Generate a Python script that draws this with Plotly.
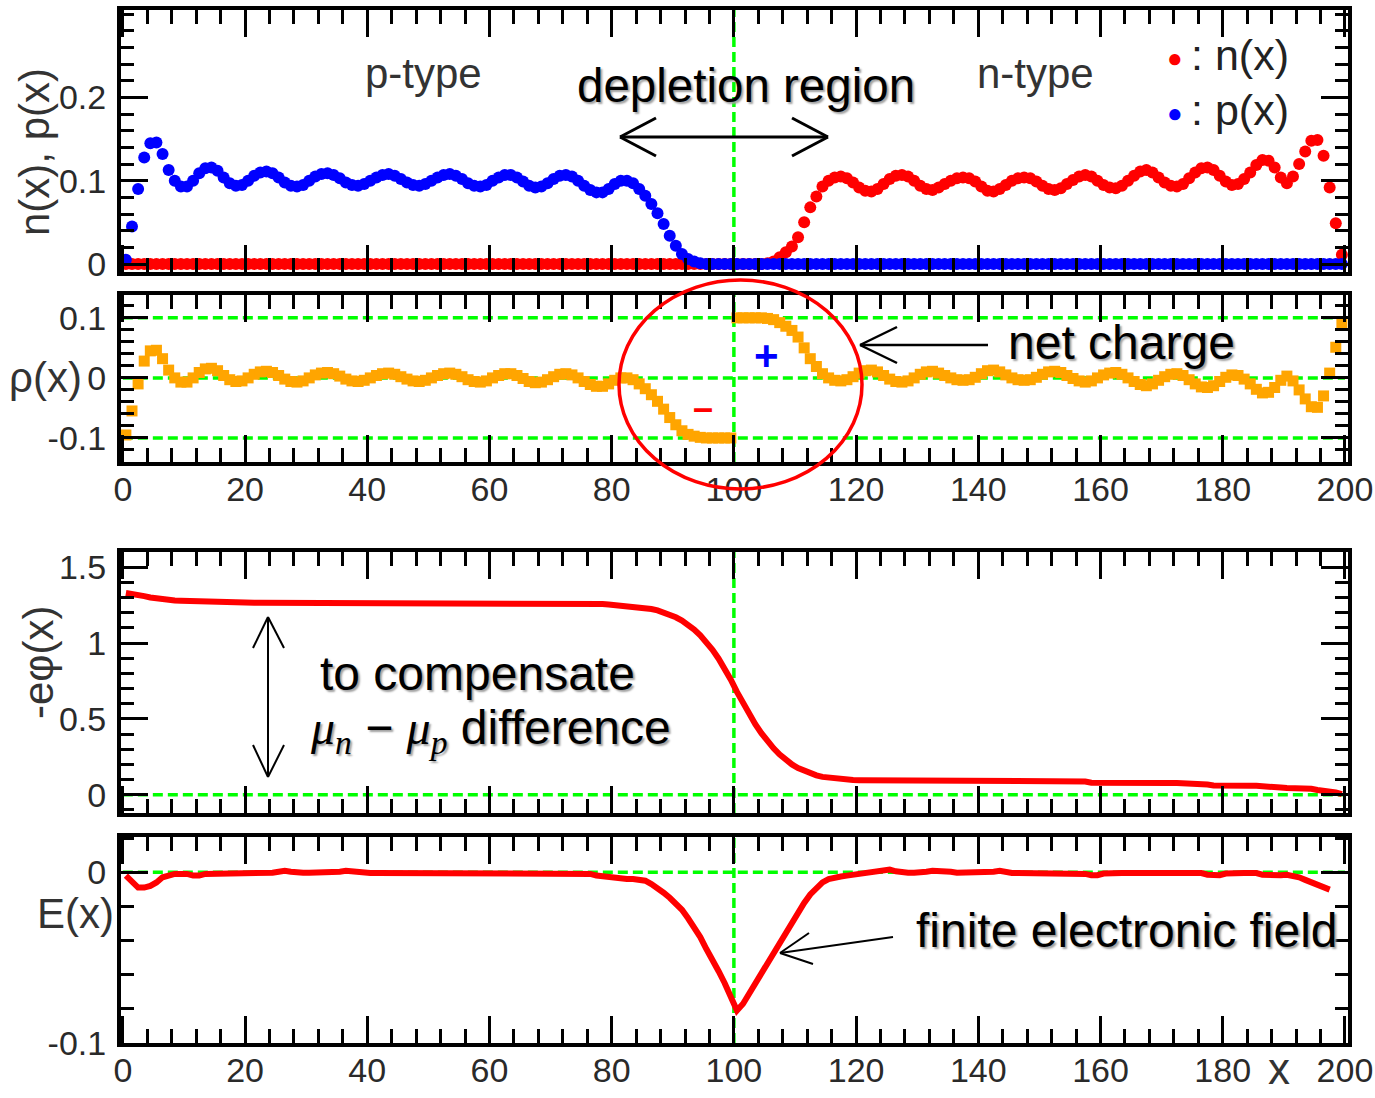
import plotly.graph_objects as go

W, H = 1375, 1098
FONT = "Liberation Sans, Arial, Helvetica, sans-serif"

# ---------------- data (x grid: cell centres) ----------------
X_GRID = [i + 0.5 for i in range(200)]

P_X = [
    0.005, 0.045, 0.090, 0.128, 0.145, 0.146, 0.132, 0.113, 0.100, 0.093,
    0.093, 0.100, 0.109, 0.115, 0.116, 0.112, 0.104, 0.097, 0.094, 0.095,
    0.100, 0.106, 0.110, 0.111, 0.109, 0.104, 0.098, 0.094, 0.093, 0.095,
    0.100, 0.105, 0.108, 0.109, 0.107, 0.103, 0.098, 0.095, 0.094, 0.096,
    0.100, 0.104, 0.107, 0.108, 0.106, 0.102, 0.098, 0.095, 0.094, 0.096,
    0.100, 0.104, 0.107, 0.108, 0.106, 0.102, 0.097, 0.094, 0.093, 0.095,
    0.100, 0.104, 0.107, 0.107, 0.104, 0.099, 0.094, 0.092, 0.093, 0.097,
    0.102, 0.106, 0.107, 0.105, 0.100, 0.094, 0.089, 0.086, 0.086, 0.090,
    0.096, 0.100, 0.100, 0.097, 0.090, 0.082, 0.072, 0.061, 0.048, 0.034,
    0.022, 0.012, 0.006, 0.003, 0.001, 0.000, 0.000, 0.000, 0.000, 0.000,
    0.000, 0.000, 0.000, 0.000, 0.000, 0.000, 0.000, 0.000, 0.000, 0.000,
    0.000, 0.000, 0.000, 0.000, 0.000, 0.000, 0.000, 0.000, 0.000, 0.000,
    0.000, 0.000, 0.000, 0.000, 0.000, 0.000, 0.000, 0.000, 0.000, 0.000,
    0.000, 0.000, 0.000, 0.000, 0.000, 0.000, 0.000, 0.000, 0.000, 0.000,
    0.000, 0.000, 0.000, 0.000, 0.000, 0.000, 0.000, 0.000, 0.000, 0.000,
    0.000, 0.000, 0.000, 0.000, 0.000, 0.000, 0.000, 0.000, 0.000, 0.000,
    0.000, 0.000, 0.000, 0.000, 0.000, 0.000, 0.000, 0.000, 0.000, 0.000,
    0.000, 0.000, 0.000, 0.000, 0.000, 0.000, 0.000, 0.000, 0.000, 0.000,
    0.000, 0.000, 0.000, 0.000, 0.000, 0.000, 0.000, 0.000, 0.000, 0.000,
    0.000, 0.000, 0.000, 0.000, 0.000, 0.000, 0.000, 0.000, 0.000, 0.000,
]

N_X = [
    0.000, 0.000, 0.000, 0.000, 0.000, 0.000, 0.000, 0.000, 0.000, 0.000,
    0.000, 0.000, 0.000, 0.000, 0.000, 0.000, 0.000, 0.000, 0.000, 0.000,
    0.000, 0.000, 0.000, 0.000, 0.000, 0.000, 0.000, 0.000, 0.000, 0.000,
    0.000, 0.000, 0.000, 0.000, 0.000, 0.000, 0.000, 0.000, 0.000, 0.000,
    0.000, 0.000, 0.000, 0.000, 0.000, 0.000, 0.000, 0.000, 0.000, 0.000,
    0.000, 0.000, 0.000, 0.000, 0.000, 0.000, 0.000, 0.000, 0.000, 0.000,
    0.000, 0.000, 0.000, 0.000, 0.000, 0.000, 0.000, 0.000, 0.000, 0.000,
    0.000, 0.000, 0.000, 0.000, 0.000, 0.000, 0.000, 0.000, 0.000, 0.000,
    0.000, 0.000, 0.000, 0.000, 0.000, 0.000, 0.000, 0.000, 0.000, 0.000,
    0.000, 0.000, 0.000, 0.000, 0.000, 0.000, 0.000, 0.000, 0.000, 0.000,
    0.000, 0.000, 0.000, 0.000, 0.000, 0.001, 0.003, 0.008, 0.014, 0.021,
    0.032, 0.050, 0.068, 0.081, 0.093, 0.100, 0.104, 0.105, 0.103, 0.098,
    0.092, 0.088, 0.087, 0.090, 0.096, 0.102, 0.106, 0.107, 0.105, 0.100,
    0.094, 0.090, 0.089, 0.092, 0.096, 0.100, 0.103, 0.104, 0.103, 0.099,
    0.093, 0.088, 0.087, 0.090, 0.095, 0.100, 0.103, 0.104, 0.103, 0.099,
    0.094, 0.090, 0.089, 0.091, 0.096, 0.101, 0.105, 0.107, 0.105, 0.100,
    0.095, 0.092, 0.091, 0.094, 0.100, 0.106, 0.111, 0.113, 0.110, 0.104,
    0.098, 0.094, 0.093, 0.096, 0.103, 0.110, 0.115, 0.116, 0.113, 0.106,
    0.099, 0.095, 0.096, 0.102, 0.110, 0.119, 0.125, 0.124, 0.116, 0.104,
    0.097, 0.105, 0.120, 0.135, 0.148, 0.149, 0.130, 0.092, 0.049, 0.011,
]

RHO_X = [
    -0.095, -0.055, -0.010, 0.028, 0.045, 0.046, 0.032, 0.013, 0.000, -0.007,
    -0.007, 0.000, 0.009, 0.015, 0.016, 0.012, 0.004, -0.003, -0.006, -0.005,
    0.000, 0.006, 0.010, 0.011, 0.009, 0.004, -0.002, -0.006, -0.007, -0.005,
    0.000, 0.005, 0.008, 0.009, 0.007, 0.003, -0.002, -0.005, -0.006, -0.004,
    0.000, 0.004, 0.007, 0.008, 0.006, 0.002, -0.002, -0.005, -0.006, -0.004,
    0.000, 0.004, 0.007, 0.008, 0.006, 0.002, -0.003, -0.006, -0.007, -0.005,
    0.000, 0.004, 0.007, 0.007, 0.004, -0.001, -0.006, -0.008, -0.007, -0.003,
    0.002, 0.006, 0.007, 0.005, 0.000, -0.006, -0.011, -0.014, -0.014, -0.010,
    -0.004, 0.000, 0.000, -0.003, -0.010, -0.018, -0.028, -0.039, -0.052, -0.066,
    -0.078, -0.088, -0.094, -0.097, -0.099, -0.100, -0.100, -0.100, -0.100, -0.100,
    0.100, 0.100, 0.100, 0.100, 0.100, 0.099, 0.097, 0.092, 0.086, 0.079,
    0.068, 0.050, 0.032, 0.019, 0.007, 0.000, -0.004, -0.005, -0.003, 0.002,
    0.008, 0.012, 0.013, 0.010, 0.004, -0.002, -0.006, -0.007, -0.005, 0.000,
    0.006, 0.010, 0.011, 0.008, 0.004, 0.000, -0.003, -0.004, -0.003, 0.001,
    0.007, 0.012, 0.013, 0.010, 0.005, 0.000, -0.003, -0.004, -0.003, 0.001,
    0.006, 0.010, 0.011, 0.009, 0.004, -0.001, -0.005, -0.007, -0.005, 0.000,
    0.005, 0.008, 0.009, 0.006, 0.000, -0.006, -0.011, -0.013, -0.010, -0.004,
    0.002, 0.006, 0.007, 0.004, -0.003, -0.010, -0.015, -0.016, -0.013, -0.006,
    0.001, 0.005, 0.004, -0.002, -0.010, -0.019, -0.025, -0.024, -0.016, -0.004,
    0.003, -0.005, -0.020, -0.035, -0.048, -0.049, -0.030, 0.008, 0.051, 0.089,
]

PHI_X = [
    1.330, 1.326, 1.318, 1.309, 1.300, 1.293, 1.288, 1.284, 1.281, 1.279,
    1.277, 1.275, 1.273, 1.271, 1.270, 1.269, 1.268, 1.267, 1.266, 1.265,
    1.265, 1.265, 1.265, 1.265, 1.265, 1.265, 1.265, 1.265, 1.265, 1.265,
    1.265, 1.265, 1.265, 1.265, 1.265, 1.265, 1.265, 1.265, 1.265, 1.265,
    1.264, 1.264, 1.264, 1.264, 1.264, 1.264, 1.264, 1.264, 1.264, 1.264,
    1.264, 1.264, 1.264, 1.264, 1.264, 1.264, 1.264, 1.264, 1.264, 1.264,
    1.263, 1.263, 1.263, 1.263, 1.263, 1.263, 1.263, 1.263, 1.263, 1.263,
    1.262, 1.262, 1.262, 1.262, 1.262, 1.262, 1.261, 1.259, 1.257, 1.254,
    1.251, 1.248, 1.244, 1.240, 1.236, 1.231, 1.224, 1.215, 1.203, 1.188,
    1.170, 1.148, 1.121, 1.089, 1.051, 1.006, 0.955, 0.897, 0.832, 0.759,
    0.678, 0.601, 0.530, 0.465, 0.406, 0.353, 0.306, 0.265, 0.230, 0.200,
    0.176, 0.157, 0.140, 0.128, 0.118, 0.112, 0.106, 0.102, 0.099, 0.097,
    0.096, 0.096, 0.096, 0.096, 0.096, 0.096, 0.096, 0.096, 0.096, 0.096,
    0.096, 0.096, 0.096, 0.096, 0.096, 0.096, 0.096, 0.096, 0.096, 0.096,
    0.096, 0.096, 0.096, 0.096, 0.096, 0.096, 0.096, 0.096, 0.096, 0.096,
    0.096, 0.096, 0.096, 0.096, 0.096, 0.095, 0.092, 0.088, 0.080, 0.079,
    0.079, 0.078, 0.078, 0.078, 0.078, 0.078, 0.077, 0.077, 0.077, 0.077,
    0.077, 0.077, 0.077, 0.076, 0.076, 0.076, 0.074, 0.068, 0.062, 0.060,
    0.060, 0.060, 0.059, 0.059, 0.059, 0.059, 0.058, 0.058, 0.056, 0.048,
    0.045, 0.045, 0.044, 0.044, 0.040, 0.032, 0.029, 0.027, 0.015, 0.004,
]

E_X = [
    -0.002, -0.006, -0.009, -0.009, -0.008, -0.006, -0.003, -0.002, -0.001, -0.001,
    -0.001, -0.002, -0.002, -0.001, -0.001, -0.0005, -0.0003, -0.0003, -0.0003, -0.0003,
    -0.0003, -0.0003, -0.0003, -0.0003, -0.0003, 0.0003, 0.0008, 0.0003, -0.0003, -0.0003,
    -0.0003, -0.0003, -0.0003, -0.0003, -0.0003, 0.0003, 0.0008, 0.0003, -0.0003, -0.0005,
    -0.0005, -0.0005, -0.0005, -0.0005, -0.0005, -0.0005, -0.0005, -0.0005, -0.0005, -0.0005,
    -0.0005, -0.0005, -0.0005, -0.0005, -0.0005, -0.0005, -0.0005, -0.0005, -0.0005, -0.0005,
    -0.0005, -0.0005, -0.0005, -0.0005, -0.0005, -0.0005, -0.0005, -0.0005, -0.0005, -0.0005,
    -0.0005, -0.0005, -0.0005, -0.0005, -0.0005, -0.0005, -0.001, -0.002, -0.0025, -0.003,
    -0.003, -0.0035, -0.004, -0.004, -0.0045, -0.005, -0.007, -0.009, -0.012, -0.015,
    -0.018, -0.022, -0.027, -0.032, -0.038, -0.045, -0.051, -0.058, -0.065, -0.073,
    -0.081, -0.077, -0.071, -0.065, -0.059, -0.053, -0.047, -0.041, -0.035, -0.030,
    -0.024, -0.018, -0.013, -0.009, -0.006, -0.004, -0.003, -0.0025, -0.002, -0.0015,
    -0.001, -0.0005, 0.000, 0.0008, 0.0015, 0.0015, 0.0005, -0.0003, -0.0003, -0.0003,
    -0.0003, 0.0003, 0.0008, 0.0008, 0.0008, 0.0003, -0.0003, -0.0003, -0.0003, -0.0003,
    -0.0003, -0.0003, 0.0003, 0.0008, -0.0003, -0.0005, -0.0005, -0.0005, -0.0005, -0.0005,
    -0.0005, -0.0005, -0.0005, -0.0005, -0.0005, -0.0005, -0.0005, -0.001, -0.0018, -0.0018,
    -0.0008, -0.0005, -0.0005, -0.0005, -0.0005, -0.0005, -0.0005, -0.0005, -0.0005, -0.0005,
    -0.0005, -0.0005, -0.0005, -0.0005, -0.0005, -0.0005, -0.0005, -0.0015, -0.0018, -0.0018,
    -0.0008, -0.0005, -0.0005, -0.0005, -0.0005, -0.0005, -0.0015, -0.0018, -0.0018, -0.0018,
    -0.0015, -0.002, -0.003, -0.0045, -0.006, -0.008, -0.0095, -0.0102, None, None,
]

X_TICKS = [0, 20, 40, 60, 80, 100, 120, 140, 160, 180, 200]
X_TICK_TEXT = ["0", "20", "40", "60", "80", "100", "120", "140", "160", "180", "200"]
Y1_TICKS, Y1_TEXT = [0, 0.1, 0.2], ["0", "0.1", "0.2"]
Y2_TICKS, Y2_TEXT = [-0.1, 0, 0.1], ["-0.1", "0", "0.1"]
Y3_TICKS, Y3_TEXT = [0, 0.5, 1, 1.5], ["0", "0.5", "1", "1.5"]
Y4_TICKS, Y4_TEXT = [-0.1, 0], ["-0.1", "0"]

RHO_LEVELS = [-0.1, 0.0, 0.1]
JUNCTION_X = 100

RED, BLUE, ORANGE, GREEN = "#ff0000", "#0000ff", "#ffa500", "#00ff00"


def px(x):
    return x / W


def py(y):
    return 1 - y / H


fig = go.Figure()
fig.add_trace(go.Scatter(x=X_GRID, y=N_X, mode="markers", xaxis="x", yaxis="y",
                         marker=dict(color=RED, size=12, symbol="circle", line=dict(width=0)),
                         name="n(x)", showlegend=False))
fig.add_trace(go.Scatter(x=X_GRID, y=P_X, mode="markers", xaxis="x", yaxis="y",
                         marker=dict(color=BLUE, size=12, symbol="circle", line=dict(width=0)),
                         name="p(x)", showlegend=False))
fig.add_trace(go.Scatter(x=X_GRID, y=RHO_X, mode="markers", xaxis="x2", yaxis="y2",
                         marker=dict(color=ORANGE, size=11, symbol="square", line=dict(width=0)),
                         name="rho", showlegend=False))
fig.add_trace(go.Scatter(x=X_GRID, y=PHI_X, mode="lines", xaxis="x3", yaxis="y3",
                         line=dict(color=RED, width=6), name="phi", showlegend=False))
fig.add_trace(go.Scatter(x=X_GRID, y=E_X, mode="lines", xaxis="x4", yaxis="y4",
                         line=dict(color=RED, width=6), name="E", showlegend=False,
                         connectgaps=False))

tickfont = dict(family=FONT, size=34, color="#2a2a2a")


def xaxis(anchor, labels):
    return dict(anchor=anchor, domain=[px(121), px(1348)], range=[-0.3, 200.5],
                automargin=False,
                showgrid=False, zeroline=False, showline=True, linewidth=4,
                linecolor="black", mirror="allticks", ticks="inside", ticklen=27,
                tickwidth=3, tickcolor="black", tickmode="array", tickvals=X_TICKS,
                ticktext=X_TICK_TEXT, showticklabels=labels, tickfont=tickfont,
                ticklabelstandoff=-6,
                minor=dict(ticks="inside", ticklen=14, tickwidth=3, tickcolor="black",
                           tickmode="linear", tick0=0, dtick=4, showgrid=False))


def yaxis(anchor, dom, rng, tv, tt, mdt):
    return dict(anchor=anchor, domain=dom, range=rng, showgrid=False, zeroline=False,
                automargin=False,
                showline=True, linewidth=4, linecolor="black", mirror="allticks",
                ticks="inside", ticklen=27, tickwidth=3, tickcolor="black",
                tickmode="array", tickvals=tv, ticktext=tt, tickfont=tickfont,
                ticklabelstandoff=4,
                minor=dict(ticks="inside", ticklen=13, tickwidth=3, tickcolor="black",
                           tickmode="linear", tick0=0, dtick=mdt, showgrid=False))


shapes = []
dash = dict(color=GREEN, width=3.5, dash="10px,5px")
shapes.append(dict(type="line", xref="x", yref="y domain", x0=JUNCTION_X, x1=JUNCTION_X,
                   y0=0, y1=1, line=dash, layer="below"))
for lv in RHO_LEVELS:
    shapes.append(dict(type="line", xref="x2", yref="y2", x0=0, x1=200, y0=lv, y1=lv,
                       line=dash, layer="below"))
shapes.append(dict(type="line", xref="x2", yref="y2 domain", x0=JUNCTION_X, x1=JUNCTION_X,
                   y0=0, y1=1, line=dash, layer="below"))
shapes.append(dict(type="line", xref="x3", yref="y3", x0=0, x1=200, y0=0, y1=0,
                   line=dash, layer="below"))
shapes.append(dict(type="line", xref="x3", yref="y3 domain", x0=JUNCTION_X, x1=JUNCTION_X,
                   y0=0, y1=1, line=dash, layer="below"))
shapes.append(dict(type="line", xref="x4", yref="y4", x0=0, x1=200, y0=0, y1=0,
                   line=dash, layer="below"))
shapes.append(dict(type="line", xref="x4", yref="y4 domain", x0=JUNCTION_X, x1=JUNCTION_X,
                   y0=0, y1=1, line=dash, layer="below"))


def seg(x0, y0, x1, y1, w=2.5, color="black"):
    return dict(type="line", xref="paper", yref="paper", x0=px(x0), y0=py(y0),
                x1=px(x1), y1=py(y1), line=dict(color=color, width=w))


def head(tx, ty, a1, a2, w=2.5):
    return [seg(a1[0], a1[1], tx, ty, w), seg(a2[0], a2[1], tx, ty, w)]


# depletion double arrow
shapes.append(seg(620, 137, 828, 137, 3))
shapes += head(620, 137, (656, 118), (656, 156), 3)
shapes += head(828, 137, (792, 118), (792, 156), 3)
# net charge arrow
shapes.append(seg(860, 345, 988, 345, 2.5))
shapes += head(860, 345, (897, 327), (897, 363), 2.5)
# compensation vertical double arrow
shapes.append(seg(268, 617, 268, 777, 2))
shapes += head(268, 617, (253, 648), (284, 648), 2)
shapes += head(268, 777, (253, 745), (284, 745), 2)
# finite field arrow
shapes.append(seg(780, 953, 893, 937, 2))
shapes += head(780, 953, (809, 933), (813, 964), 2)
# red ellipse
shapes.append(dict(type="circle", xref="paper", yref="paper", x0=px(619), x1=px(862),
                   y0=py(489), y1=py(280), line=dict(color="red", width=3.5)))

SHADOW = "2px 2px 2px #a0a0a0"


def ann(text, x, y, size, color="black", xanchor="center", shadow=None, angle=0):
    f = dict(family=FONT, size=size, color=color)
    if shadow:
        f["shadow"] = shadow
    return dict(text=text, x=px(x), y=py(y), xref="paper", yref="paper",
                showarrow=False, xanchor=xanchor, yanchor="middle", font=f,
                textangle=angle)


MU = "<span style=\"font-family:'Liberation Serif','Times New Roman',serif\">"

annotations = [
    ann("p-type", 424, 73, 42, "#333"),
    ann("n-type", 1035, 73, 42, "#333"),
    ann("depletion region", 746, 85, 47.5, "black", shadow=SHADOW),
    ann("●", 1175, 58, 26, RED),
    ann("●", 1175, 113, 26, BLUE),
    ann(": n(x)", 1189, 55, 43, "#222", xanchor="left"),
    ann(": p(x)", 1189, 110, 43, "#222", xanchor="left"),
    ann("<b>+</b>", 767, 355, 42, BLUE),
    ann("<b>–</b>", 703, 408, 36, RED),
    ann("net charge", 1121, 342, 48, "black", shadow=SHADOW),
    ann("to compensate", 477, 673, 48, "black", shadow=SHADOW),
    ann(MU + "<i>μ</i><sub><i>n</i></sub></span> − " + MU + "<i>μ</i><sub><i>p</i></sub></span> difference",
        308, 731, 48, "black", xanchor="left", shadow=SHADOW),
    ann("finite electronic field", 1127, 930, 48, "black", shadow=SHADOW),
    # axis titles
    ann("n(x), p(x)", 35, 152, 42, "#333", angle=-90),
    ann("ρ(x)", 45, 378, 42, "#333"),
    ann("-eφ(x)", 38, 662, 42, "#333", angle=-90),
    ann("E(x)", 75, 913, 42, "#333"),
    ann("x", 1279, 1068, 44, "#333"),
]

fig.update_layout(
    width=W, height=H, margin=dict(l=0, r=0, t=0, b=0, autoexpand=False),
    paper_bgcolor="white", plot_bgcolor="white",
    font=dict(family=FONT),
    xaxis=xaxis("y", False),
    xaxis2=xaxis("y2", True),
    xaxis3=xaxis("y3", False),
    xaxis4=xaxis("y4", True),
    yaxis=yaxis("x", [py(272), py(10)], [-0.0096, 0.305], Y1_TICKS, Y1_TEXT, 0.02),
    yaxis2=yaxis("x2", [py(462), py(295)], [-0.14, 0.138], Y2_TICKS, Y2_TEXT, 0.02),
    yaxis3=yaxis("x3", [py(813), py(552)], [-0.12, 1.6], Y3_TICKS, Y3_TEXT, 0.1),
    yaxis4=yaxis("x4", [py(1043), py(837)], [-0.1, 0.0206], Y4_TICKS, Y4_TEXT, 0.02),
    shapes=shapes,
    annotations=annotations,
    showlegend=False,
)

fig.write_html("out.html", config={"displayModeBar": False},
               post_script="document.body.style.margin='0';document.body.style.overflow='hidden';")
